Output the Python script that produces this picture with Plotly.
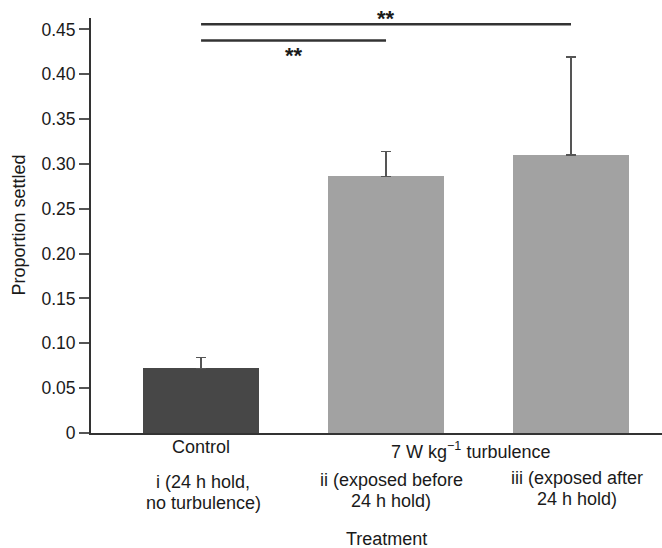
import plotly.graph_objects as go

# ---- data ----
categories = ["Control", "ii", "iii"]
proportion = [0.072, 0.286, 0.310]
error_upper = [0.084, 0.314, 0.419]
bar_colors = ["#474747", "#a2a2a2", "#a2a2a2"]
ytick_vals = [0, 0.05, 0.10, 0.15, 0.20, 0.25, 0.30, 0.35, 0.40, 0.45]
ytick_text = ["0", "0.05", "0.10", "0.15", "0.20", "0.25", "0.30", "0.35", "0.40", "0.45"]
group_labels = ["Control", "7 W kg<sup>−1</sup> turbulence"]
treatment_line1 = ["i (24 h hold,", "ii (exposed before", "iii (exposed after"]
treatment_line2 = ["no turbulence)", "24 h hold)", "24 h hold)"]
sig_pairs = [(0, 2), (0, 1)]
sig_levels = [0.4556, 0.4377]
sig_text = ["**", "**"]

FONT = "Liberation Sans, Arial, sans-serif"
TXT = "#1a1a1a"
LS = 18

xpos = list(range(len(categories)))
err_plus = [e - v for e, v in zip(error_upper, proportion)]

fig = go.Figure()
fig.add_trace(go.Bar(
    x=xpos, y=proportion, width=0.63,
    marker=dict(color=bar_colors, line=dict(width=0)),
    error_y=dict(type="data", array=err_plus, arrayminus=[0] * len(xpos),
                 symmetric=False, color="#555555", thickness=1.6, width=5),
    showlegend=False, hoverinfo="skip",
))

# significance lines
for (a, b), lvl in zip(sig_pairs, sig_levels):
    fig.add_shape(type="line", xref="x", yref="y", x0=xpos[a], x1=xpos[b],
                  y0=lvl, y1=lvl, line=dict(color="#333333", width=2.5))

annotations = []
# stars
annotations.append(dict(x=(xpos[sig_pairs[0][0]] + xpos[sig_pairs[0][1]]) / 2, y=sig_levels[0],
                        xref="x", yref="y", text="<b>" + sig_text[0] + "</b>", showarrow=False,
                        yanchor="middle", yshift=6, font=dict(size=22, color=TXT, family=FONT)))
annotations.append(dict(x=(xpos[sig_pairs[1][0]] + xpos[sig_pairs[1][1]]) / 2, y=sig_levels[1],
                        xref="x", yref="y", text="<b>" + sig_text[1] + "</b>", showarrow=False,
                        yanchor="middle", yshift=-15, font=dict(size=22, color=TXT, family=FONT)))

# group labels
annotations.append(dict(x=xpos[0], y=0, xref="x", yref="paper", text=group_labels[0],
                        showarrow=False, yanchor="middle", yshift=-14,
                        font=dict(size=LS, color=TXT, family=FONT)))
annotations.append(dict(x=(xpos[1] + xpos[2]) / 2, y=0, xref="x", yref="paper", text=group_labels[1],
                        showarrow=False, yanchor="middle", yshift=-17, xshift=-8,
                        font=dict(size=LS, color=TXT, family=FONT)))
# treatment labels (two lines each)
shifts = [(-49, 2), (-47, 5), (-45, 6)]
for i in range(len(treatment_line1)):
    for j, txt in enumerate([treatment_line1[i], treatment_line2[i]]):
        annotations.append(dict(x=xpos[i], y=0, xref="x", yref="paper", text=txt,
                                showarrow=False, yanchor="middle",
                                yshift=shifts[i][0] - 21 * j, xshift=shifts[i][1],
                                font=dict(size=LS, color=TXT, family=FONT)))
# axis titles
annotations.append(dict(x=xpos[1], y=0, xref="x", yref="paper", text="Treatment",
                        showarrow=False, yanchor="middle", yshift=-106,
                        font=dict(size=LS, color=TXT, family=FONT)))
annotations.append(dict(x=0, y=0.5, xref="paper", yref="paper", text="Proportion settled",
                        showarrow=False, textangle=-90, xanchor="center", yanchor="middle",
                        xshift=-73, font=dict(size=LS, color=TXT, family=FONT)))

fig.update_layout(
    width=662, height=548,
    margin=dict(l=91, r=0, t=18, b=115),
    plot_bgcolor="white", paper_bgcolor="white",
    font=dict(family=FONT, size=LS, color=TXT),
    annotations=annotations,
    bargap=0,
)
fig.update_xaxes(range=[-0.595, 2.492], showticklabels=False, ticks="",
                 showline=True, linecolor="#333333", linewidth=2,
                 showgrid=False, zeroline=False)
fig.update_yaxes(range=[0, 0.4627], tickvals=ytick_vals, ticktext=ytick_text,
                 ticks="outside", ticklen=10, tickwidth=1.5, tickcolor="#555555",
                 showline=True, linecolor="#333333", linewidth=2,
                 showgrid=False, zeroline=False,
                 tickfont=dict(size=17.5, color=TXT, family=FONT))

fig.write_html("out.html", config={"displayModeBar": False},
               post_script="document.body.style.margin='0';document.body.style.overflow='hidden';")
